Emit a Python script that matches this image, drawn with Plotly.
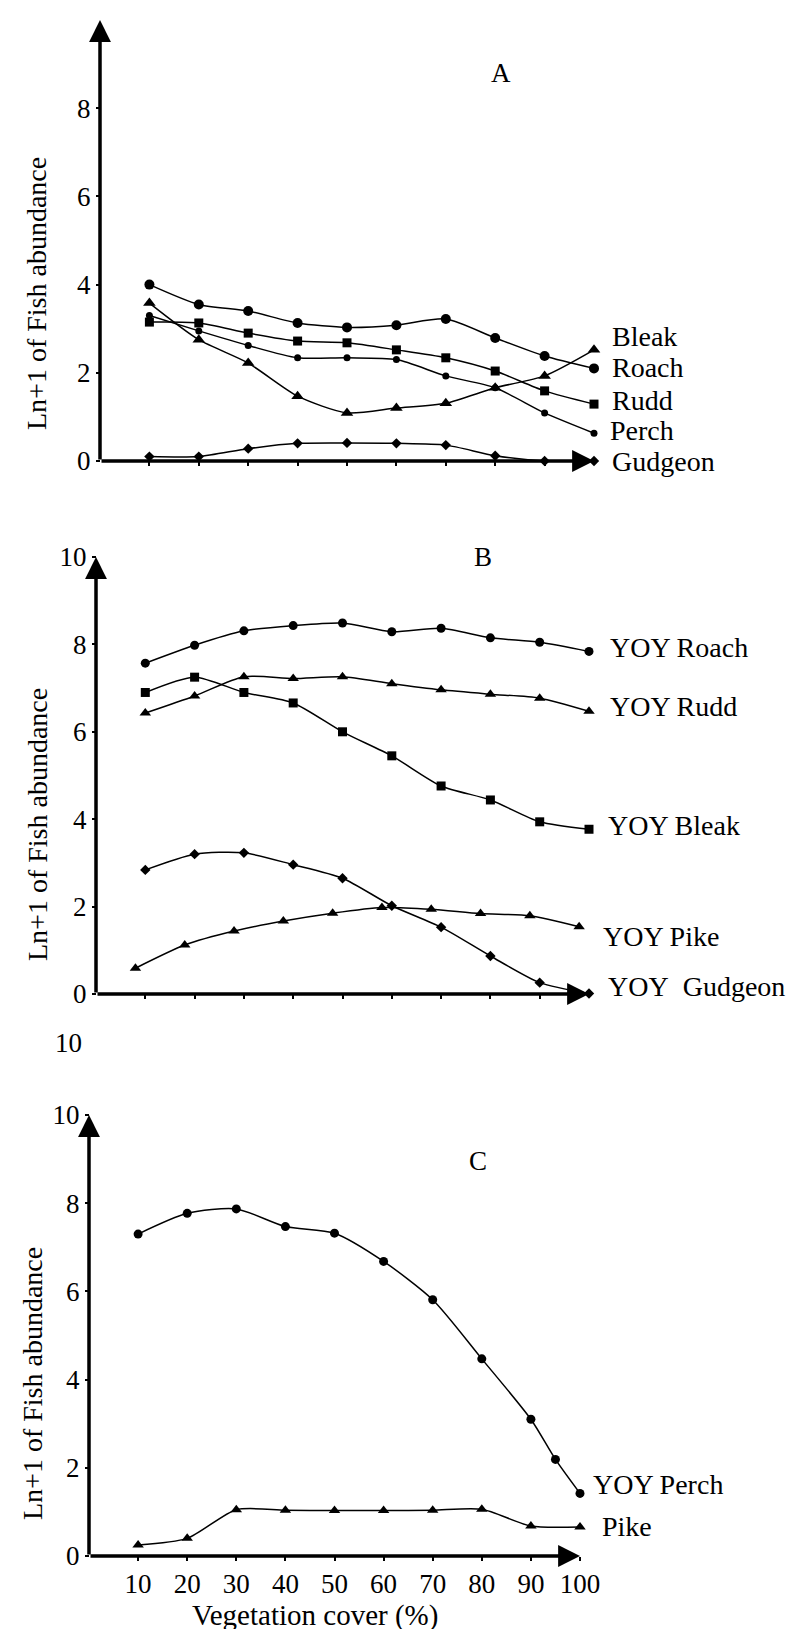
import plotly.graph_objects as go

# ---------------- data ----------------
cover = [10, 20, 30, 40, 50, 60, 70, 80, 90, 100]

# Panel A (adults)
a_roach = [4.00, 3.55, 3.40, 3.13, 3.03, 3.08, 3.22, 2.79, 2.38, 2.10]
a_rudd = [3.15, 3.13, 2.90, 2.72, 2.68, 2.52, 2.34, 2.04, 1.59, 1.29]
a_perch = [3.30, 2.95, 2.62, 2.34, 2.34, 2.30, 1.93, 1.66, 1.09, 0.63]
a_bleak = [3.58, 2.75, 2.22, 1.47, 1.09, 1.20, 1.31, 1.66, 1.93, 2.52]
a_gudgeon = [0.10, 0.10, 0.28, 0.40, 0.41, 0.40, 0.36, 0.12, 0.00, 0.00]

# Panel B (YOY)
b_roach = [7.57, 7.98, 8.31, 8.43, 8.49, 8.29, 8.37, 8.15, 8.05, 7.84]
b_rudd = [6.43, 6.82, 7.26, 7.22, 7.26, 7.10, 6.96, 6.86, 6.77, 6.47]
b_bleak = [6.90, 7.25, 6.90, 6.66, 6.00, 5.45, 4.76, 4.44, 3.94, 3.77]
b_gudgeon = [2.84, 3.20, 3.23, 2.96, 2.65, 2.02, 1.53, 0.87, 0.26, 0.01]
b_pike_cover = [8, 18, 28, 38, 48, 58, 68, 78, 88, 98]
b_pike = [0.59, 1.12, 1.44, 1.67, 1.85, 1.98, 1.94, 1.84, 1.79, 1.54]

# Panel C
c_perch_cover = [10, 20, 30, 40, 50, 60, 70, 80, 90, 95, 100]
c_perch = [7.30, 7.77, 7.87, 7.47, 7.32, 6.68, 5.81, 4.47, 3.10, 2.19, 1.42]
c_pike = [0.25, 0.40, 1.05, 1.04, 1.03, 1.03, 1.04, 1.06, 0.68, 0.66]

y_ticks_a = [0, 2, 4, 6, 8]
y_ticks_bc = [0, 2, 4, 6, 8, 10]
x_ticks_ab = [10, 20, 30, 40, 50, 60, 70, 80, 90]
x_ticks_c = [10, 20, 30, 40, 50, 60, 70, 80, 90, 100]
y_title = "Ln+1 of Fish abundance"
x_title = "Vegetation cover (%)"

# ---------------- geometry (pixels) ----------------
W, H = 795, 1629
FONT = "Liberation Serif"

PANELS = {
    "A": dict(x0=92, kx=4.94, y0=453, ky=44.1, top=0, bot=490),
    "B": dict(x0=88, kx=4.93, y0=986, ky=43.7, top=490, bot=1080),
    "C": dict(x0=81, kx=4.91, y0=1548, ky=44.1, top=1080, bot=H),
}


def xrange_of(p):
    return [(0 - p["x0"]) / p["kx"], (W - p["x0"]) / p["kx"]]


def yrange_of(p):
    return [(p["y0"] - p["bot"]) / p["ky"], (p["y0"] - p["top"]) / p["ky"]]


def ydomain_of(p):
    return [1 - p["bot"] / H, 1 - p["top"] / H]


fig = go.Figure()


def add(xs, ys, symbol, size, xa, ya, name):
    fig.add_trace(go.Scatter(
        x=xs, y=ys, mode="lines+markers", name=name,
        line=dict(color="black", width=1.5, shape="spline", smoothing=0.7),
        marker=dict(symbol=symbol, size=size, color="black"),
        xaxis=xa, yaxis=ya, showlegend=False, hoverinfo="skip"))


# Panel A
add(cover, a_roach, "circle", 10, "x", "y", "Roach")
add(cover, a_rudd, "square", 9, "x", "y", "Rudd")
add(cover, a_perch, "circle", 7, "x", "y", "Perch")
add(cover, a_bleak, "triangle-up", 11, "x", "y", "Bleak")
add(cover, a_gudgeon, "diamond", 8, "x", "y", "Gudgeon")

# Panel B
add(cover, b_roach, "circle", 9, "x2", "y2", "YOY Roach")
add(cover, b_rudd, "triangle-up", 10, "x2", "y2", "YOY Rudd")
add(cover, b_bleak, "square", 9, "x2", "y2", "YOY Bleak")
add(cover, b_gudgeon, "diamond", 8, "x2", "y2", "YOY Gudgeon")
add(b_pike_cover, b_pike, "triangle-up", 10, "x2", "y2", "YOY Pike")

# Panel C
add(c_perch_cover, c_perch, "circle", 9, "x3", "y3", "YOY Perch")
add(cover, c_pike, "triangle-up", 10, "x3", "y3", "Pike")

tickfont = dict(family=FONT, size=27, color="black")


def xaxis_cfg(p, tickvals, labels):
    return dict(domain=[0, 1], range=xrange_of(p), anchor="free",
                position=1 - p["y0"] / H, showgrid=False, zeroline=False,
                showline=False, ticks="outside", ticklen=4, tickwidth=2,
                tickcolor="black", tickvals=tickvals,
                showticklabels=labels, tickfont=tickfont)


def yaxis_cfg(p, tickvals):
    return dict(domain=ydomain_of(p), range=yrange_of(p), anchor="free",
                position=p["x0"] / W, showgrid=False, zeroline=False,
                showline=False, ticks="outside", ticklen=4, tickwidth=2,
                tickcolor="black", tickvals=tickvals, tickfont=tickfont)


pA, pB, pC = PANELS["A"], PANELS["B"], PANELS["C"]

annotations = []


def arrows(xa, ya, ytop):
    for (x, y) in [(0, ytop), (100, 0)]:
        annotations.append(dict(
            x=x, y=y, ax=0, ay=0, xref=xa, yref=ya, axref=xa, ayref=ya,
            text="", showarrow=True, arrowhead=2, arrowsize=1.25,
            arrowwidth=3.5, arrowcolor="black", standoff=0))


arrows("x", "y", 10)
arrows("x2", "y2", 10)
arrows("x3", "y3", 10)


def label(text, x, y, xa, ya, anchor="left", size=28):
    annotations.append(dict(
        x=x, y=y, xref=xa, yref=ya, text=text, showarrow=False,
        xanchor=anchor, yanchor="middle",
        font=dict(family=FONT, size=size, color="black")))


# series labels panel A
label("Bleak", 103.2, 2.83, "x", "y")
label("Roach", 103.2, 2.12, "x", "y")
label("Rudd", 103.2, 1.38, "x", "y")
label("Perch", 102.8, 0.70, "x", "y")
label("Gudgeon", 103.2, 0.0, "x", "y")
label("A", 81.2, 8.8, "x", "y", anchor="center", size=27)

# panel B
label("YOY Roach", 103.9, 7.94, "x2", "y2")
label("YOY Rudd", 103.9, 6.59, "x2", "y2")
label("YOY Bleak", 103.4, 3.86, "x2", "y2")
label("YOY Pike", 102.4, 1.32, "x2", "y2")
label("YOY\u00a0 Gudgeon", 103.4, 0.18, "x2", "y2")
label("B", 78.5, 9.99, "x2", "y2", anchor="center", size=27)

# panel C
label("YOY Perch", 102.2, 1.63, "x3", "y3")
label("Pike", 104.1, 0.66, "x3", "y3")
label("C", 79.2, 8.96, "x3", "y3", anchor="center", size=27)

# y-axis titles
for (cx, cy) in [(28, 286), (29, 817), (24, 1376)]:
    annotations.append(dict(
        x=cx / W, y=1 - cy / H, xref="paper", yref="paper", text=y_title,
        showarrow=False, textangle=-90, xanchor="center", yanchor="middle",
        font=dict(family=FONT, size=28, color="black")))

# x-axis title
annotations.append(dict(
    x=307 / W, y=1 - 1607 / H, xref="paper", yref="paper", text=x_title,
    showarrow=False, xanchor="center", yanchor="middle",
    font=dict(family=FONT, size=29, color="black")))

# stray "10" in the scanned page
annotations.append(dict(
    x=60 / W, y=1 - 1035 / H, xref="paper", yref="paper", text="10",
    showarrow=False, xanchor="center", yanchor="middle",
    font=dict(family=FONT, size=27, color="black")))

fig.update_layout(
    width=W, height=H, autosize=False,
    margin=dict(l=0, r=0, t=0, b=0),
    paper_bgcolor="white", plot_bgcolor="white",
    showlegend=False,
    font=dict(family=FONT, color="black"),
    xaxis=xaxis_cfg(pA, x_ticks_ab, False),
    yaxis=yaxis_cfg(pA, y_ticks_a),
    xaxis2=xaxis_cfg(pB, x_ticks_ab, False),
    yaxis2=yaxis_cfg(pB, y_ticks_bc),
    xaxis3=xaxis_cfg(pC, x_ticks_c, True),
    yaxis3=yaxis_cfg(pC, y_ticks_bc),
    annotations=annotations,
)

fig.write_html("out.html")
